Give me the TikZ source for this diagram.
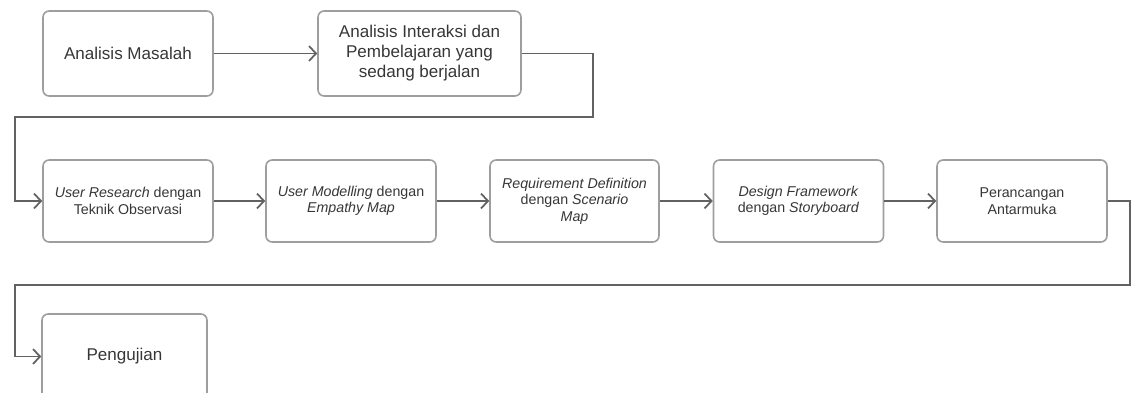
\documentclass[tikz,border=0pt]{standalone}
\usepackage{fontspec}
\setmainfont{Liberation Sans}
\usetikzlibrary{arrows.meta}
\definecolor{boxline}{HTML}{9E9E9E}
\definecolor{flowline}{HTML}{626262}
\definecolor{boxtext}{HTML}{363636}

\begin{document}
\begin{tikzpicture}[x=0.02cm,y=-0.02cm,
	box/.style={draw=boxline,line width=0.9pt,rounded corners=3.5pt,align=center,text=boxtext,inner sep=0pt,
		minimum width=3.4cm,minimum height=1.7cm,font=\fontsize{9.7}{11.4}\selectfont},
	small/.style={minimum height=1.64cm,font=\fontsize{8.1}{9.4}\selectfont},
	flow/.style={draw=flowline,line width=1pt,-{Straight Barb[length=4pt,width=8.5pt]}}]
	\useasboundingbox (0,0) rectangle (1132,392);
	\clip (0,0) rectangle (1132,392);
	\node[box] (a) at (128,53.5) {Analisis Masalah};
	\node[box,minimum width=4.06cm] (b) at (419.5,53.5) {Analisis Interaksi dan\\Pembelajaran yang\\sedang berjalan};
	\node[box,small] (c) at (128,201) {\textit{User Research} dengan\\Teknik Observasi};
	\node[box,small] (d) at (351,201) {\textit{User Modelling} dengan\\\textit{Empathy Map}};
	\node[box,small,minimum width=3.38cm] (e) at (574.5,201) {\textit{Requirement Definition}\\dengan \textit{Scenario}\\\textit{Map}};
	\node[box,small] (f) at (798.5,201) {\textit{Design Framework}\\dengan \textit{Storyboard}};
	\node[box,small] (g) at (1022,201) {Perancangan\\Antarmuka};
	\node[box,minimum width=3.3cm] (h) at (124.5,356.5) {Pengujian};
	\coordinate (r1) at (593,117);
	\coordinate (l1) at (15,117);
	\coordinate (r2) at (1130,285);
	\coordinate (l2) at (15,285);
	\draw[flow] (a) -- (b);
	\draw[flow] (b.east) -| (r1) -- (l1) |- (c.west);
	\draw[flow] (c) -- (d);
	\draw[flow] (d) -- (e);
	\draw[flow] (e) -- (f);
	\draw[flow] (f) -- (g);
	\draw[flow] (g.east) -| (r2) -- (l2) |- (h.west);
\end{tikzpicture}
\end{document}
